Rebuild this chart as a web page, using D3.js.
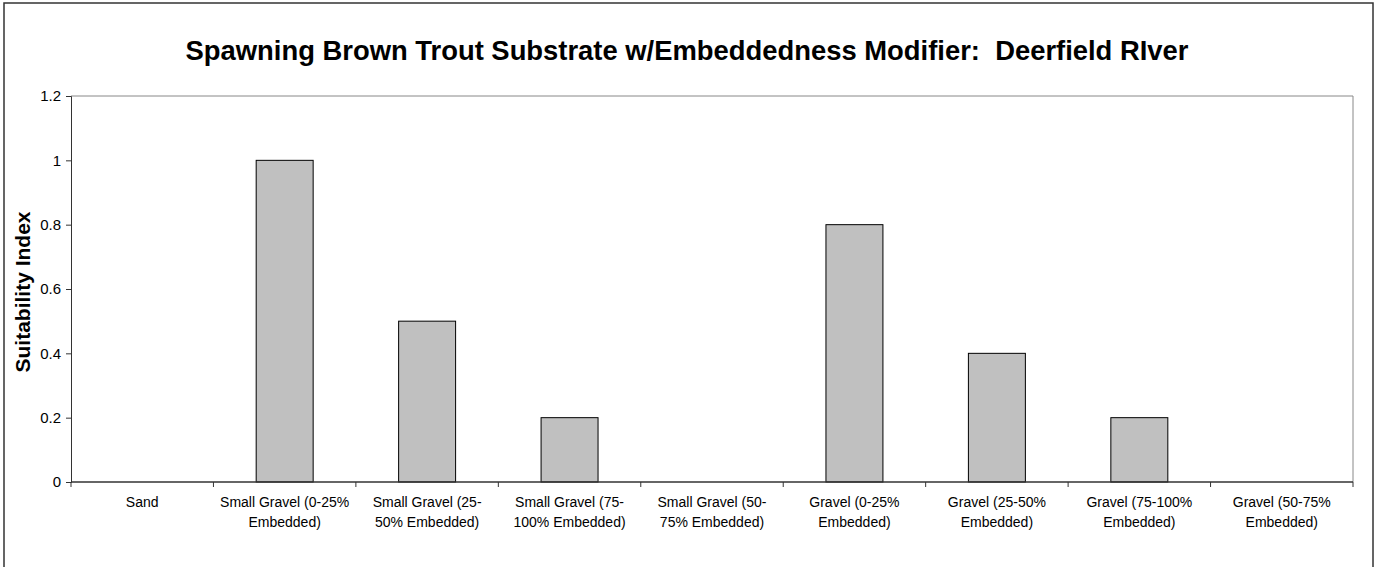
<!DOCTYPE html>
<html>
<head>
<meta charset="utf-8">
<script src="https://cdn.jsdelivr.net/npm/d3@7"></script>
<style>
  body { margin: 0; background: #fff; }
  svg { display: block; font-family: Arial, "Liberation Sans", sans-serif; }
</style>
</head>
<body>
<svg id="chart" width="1377" height="567"></svg>
<script>
// данные
const categories = [
  "Sand",
  "Small Gravel (0-25% Embedded)",
  "Small Gravel (25-50% Embedded)",
  "Small Gravel (75-100% Embedded)",
  "Small Gravel (50-75% Embedded)",
  "Gravel (0-25% Embedded)",
  "Gravel (25-50% Embedded)",
  "Gravel (75-100% Embedded)",
  "Gravel (50-75% Embedded)"
];
const values = [0, 1, 0.5, 0.2, 0, 0.8, 0.4, 0.2, 0];
const yTicks = [0, 0.2, 0.4, 0.6, 0.8, 1, 1.2];
const titleText = "Spawning Brown Trout Substrate w/Embeddedness Modifier:  Deerfield RIver";
const yTitle = "Suitability Index";

const svg = d3.select("#chart");
const plotLeft = 71, plotRight = 1353, plotTop = 96, plotBottom = 482;

// рамка всей диаграммы
svg.append("rect")
  .attr("x", 4).attr("y", 3)
  .attr("width", 1369).attr("height", 620)
  .attr("fill", "none")
  .attr("stroke", "#333")
  .attr("stroke-width", 1.5);

const x = d3.scaleBand().domain(categories).range([plotLeft, plotRight])
  .paddingInner(0.6).paddingOuter(0.3);
const xCell = d3.scaleBand().domain(categories).range([plotLeft, plotRight]);
const y = d3.scaleLinear().domain([0, 1.2]).range([plotBottom, plotTop]);

// рамка области построения (серая сверху и справа)
svg.append("path")
  .attr("d", `M${plotLeft},${plotTop}H${plotRight}V${plotBottom}`)
  .attr("fill", "none")
  .attr("stroke", "#888")
  .attr("stroke-width", 1);

// столбцы
svg.selectAll("rect.bar")
  .data(values)
  .join("rect")
  .attr("class", "bar")
  .attr("x", (d, i) => x(categories[i]))
  .attr("y", d => y(d))
  .attr("width", x.bandwidth())
  .attr("height", d => y(0) - y(d))
  .attr("fill", "#c0c0c0")
  .attr("stroke", "#000")
  .attr("stroke-width", 1)
  .attr("display", d => d > 0 ? null : "none");

// ось Y
const yAxis = svg.append("g")
  .attr("transform", `translate(${plotLeft},0)`)
  .call(d3.axisLeft(y).tickValues(yTicks).tickSizeOuter(0).tickSize(5).tickPadding(5)
    .tickFormat(d3.format("")));
yAxis.select(".domain").attr("stroke", "#333");
yAxis.selectAll(".tick line").attr("stroke", "#333");
yAxis.selectAll("text").attr("font-size", "15px").attr("fill", "#000")
  .attr("font-family", "Arial, 'Liberation Sans', sans-serif");

// ось X
svg.append("line")
  .attr("x1", plotLeft).attr("x2", plotRight)
  .attr("y1", y(0)).attr("y2", y(0))
  .attr("stroke", "#333").attr("stroke-width", 1.5);

const bounds = categories.map(c => xCell(c)).concat([plotRight]);
svg.selectAll("line.xtick")
  .data(bounds)
  .join("line")
  .attr("class", "xtick")
  .attr("x1", d => d).attr("x2", d => d)
  .attr("y1", y(0)).attr("y2", y(0) + 5)
  .attr("stroke", "#333");

// подписи категорий с переносом
function wrapWords(str, maxW, size) {
  const tokens = str.match(/[^\s-]+-?|\s+/g).filter(t => t.trim() !== "");
  const probe = svg.append("text").attr("font-size", size).attr("visibility", "hidden");
  const measure = s => { probe.text(s); return probe.node().getComputedTextLength(); };
  const lines = [];
  let cur = "";
  tokens.forEach(t => {
    const sep = cur === "" || cur.endsWith("-") ? "" : " ";
    const cand = cur + sep + t;
    if (cur !== "" && measure(cand) > maxW) { lines.push(cur); cur = t; }
    else cur = cand;
  });
  if (cur) lines.push(cur);
  probe.remove();
  return lines;
}

categories.forEach(c => {
  const lines = wrapWords(c, 133, "14px");
  const t = svg.append("text")
    .attr("x", xCell(c) + xCell.bandwidth() / 2)
    .attr("y", 507)
    .attr("text-anchor", "middle")
    .attr("font-size", "14px")
    .attr("fill", "#000");
  lines.forEach((l, i) => {
    t.append("tspan")
      .attr("x", xCell(c) + xCell.bandwidth() / 2)
      .attr("dy", i === 0 ? 0 : 20)
      .text(l);
  });
});

// заголовок
svg.append("text")
  .attr("x", 687).attr("y", 60)
  .attr("text-anchor", "middle")
  .attr("font-size", "27.4px")
  .attr("font-weight", "bold")
  .attr("xml:space", "preserve")
  .style("white-space", "pre")
  .text(titleText);

// подпись оси Y
svg.append("text")
  .attr("transform", `translate(30,${(plotTop + plotBottom) / 2 + 3}) rotate(-90)`)
  .attr("text-anchor", "middle")
  .attr("font-size", "21px")
  .attr("font-weight", "bold")
  .text(yTitle);
</script>
</body>
</html>
